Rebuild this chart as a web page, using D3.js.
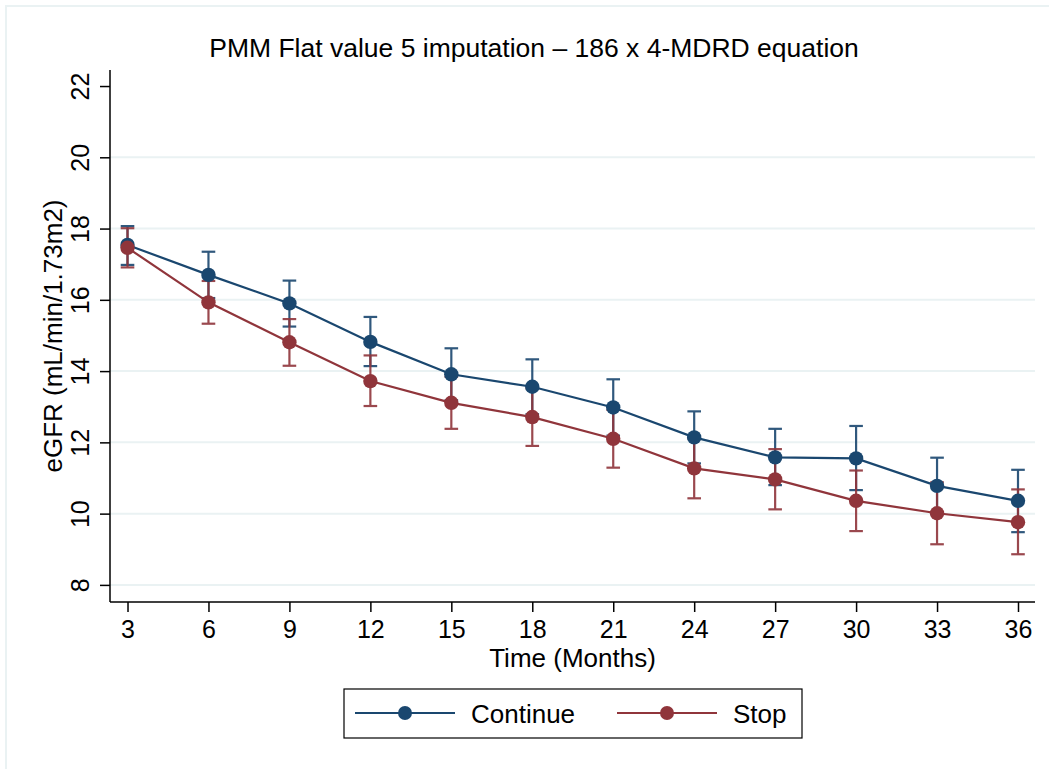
<!DOCTYPE html>
<html>
<head>
<meta charset="utf-8">
<script src="https://cdn.jsdelivr.net/npm/d3@7"></script>
<style>
  body { margin: 0; background: #fff; }
  svg { display: block; font-family: "Liberation Sans", Arial, sans-serif; }
  .grid line { stroke: #eaf2f3; stroke-width: 2; }
  .axis path, .axis line { stroke: #000; stroke-width: 1.5; }
</style>
</head>
<body>
<div class="chart"></div>
<script>
const WIDTH = 1049;
const HEIGHT = 769;

// plot region
const LEFT = 110, RIGHT = 1035, TOP = 70, BOTTOM = 602;

var months = [3, 6, 9, 12, 15, 18, 21, 24, 27, 30, 33, 36];
var yTicks = [8, 10, 12, 14, 16, 18, 20, 22];

var continueMean = [17.54, 16.70, 15.90, 14.82, 13.91, 13.56, 12.98, 12.14, 11.58, 11.55, 10.78, 10.36];
var continueLo   = [16.98, 16.05, 15.25, 14.14, 13.18, 12.79, 12.19, 11.41, 10.80, 10.66, 9.99, 9.48];
var continueHi   = [18.07, 17.35, 16.54, 15.52, 14.64, 14.33, 13.77, 12.87, 12.38, 12.46, 11.57, 11.23];

var stopMean = [17.46, 15.93, 14.81, 13.72, 13.11, 12.71, 12.10, 11.27, 10.96, 10.36, 10.01, 9.76];
var stopLo   = [16.91, 15.33, 14.15, 13.02, 12.38, 11.90, 11.29, 10.43, 10.12, 9.51, 9.14, 8.86];
var stopHi   = [18.01, 16.53, 15.46, 14.44, 13.84, 13.52, 12.91, 12.11, 11.81, 11.21, 10.88, 10.68];

var seriesNames = ['Continue', 'Stop'];
var colors = ['#1a476f', '#90353b'];

var series = [
    { name: seriesNames[0], color: colors[0], mean: continueMean, lo: continueLo, hi: continueHi },
    { name: seriesNames[1], color: colors[1], mean: stopMean, lo: stopLo, hi: stopHi }
];

var xScale = d3.scaleLinear().domain([2.351, 36.63]).range([LEFT, RIGHT]);
var yScale = d3.scaleLinear().domain([7.52, 22.45]).range([BOTTOM, TOP]);

var svg = d3.select('.chart').append('svg')
    .attr('width', WIDTH)
    .attr('height', HEIGHT);

// outer graph region frame
svg.append('rect')
    .attr('x', 6).attr('y', 6)
    .attr('width', WIDTH + 20).attr('height', HEIGHT + 20)
    .attr('fill', 'none')
    .attr('stroke', '#eaf2f3')
    .attr('stroke-width', 2);

// gridlines
svg.append('g').attr('class', 'grid')
    .selectAll('line').data(yTicks.filter(function (t) { return t < 22; })).enter().append('line')
    .attr('x1', LEFT).attr('x2', RIGHT)
    .attr('y1', function (d) { return yScale(d); })
    .attr('y2', function (d) { return yScale(d); });

// axes
var xAxis = d3.axisBottom(xScale).tickValues(months).tickSize(10).tickSizeOuter(0).tickPadding(8);
var yAxis = d3.axisLeft(yScale).tickValues(yTicks).tickSize(10).tickSizeOuter(0).tickPadding(6);

var xAxisG = svg.append('g').attr('class', 'axis')
    .attr('transform', 'translate(0,' + BOTTOM + ')')
    .call(xAxis);
xAxisG.select('.domain').attr('d', 'M' + LEFT + ',0H' + RIGHT);
xAxisG.selectAll('text').attr('font-size', 25).attr('font-family', '"Liberation Sans", Arial, sans-serif').attr('fill', '#000');

var yAxisG = svg.append('g').attr('class', 'axis')
    .attr('transform', 'translate(' + LEFT + ',0)')
    .call(yAxis);
yAxisG.select('.domain').attr('d', 'M0,' + TOP + 'V' + BOTTOM);
yAxisG.selectAll('.tick text')
    .attr('font-size', 25).attr('font-family', '"Liberation Sans", Arial, sans-serif').attr('fill', '#000')
    .attr('x', 0).attr('dy', 0)
    .attr('text-anchor', 'middle')
    .attr('transform', 'translate(-21,0) rotate(-90)');

// titles
svg.append('text')
    .attr('x', 534).attr('y', 57)
    .attr('text-anchor', 'middle')
    .attr('font-size', 26.5)
    .text('PMM Flat value 5 imputation \u2013 186 x 4-MDRD equation');

svg.append('text')
    .attr('x', (LEFT + RIGHT) / 2).attr('y', 667)
    .attr('text-anchor', 'middle')
    .attr('font-size', 26)
    .text('Time (Months)');

svg.append('text')
    .attr('transform', 'translate(62,' + ((TOP + BOTTOM) / 2) + ') rotate(-90)')
    .attr('text-anchor', 'middle')
    .attr('font-size', 26)
    .text('eGFR (mL/min/1.73m2)');

// error bars
var CAP = 6.8;
series.forEach(function (s) {
    var g = svg.append('g').attr('stroke', s.color).attr('stroke-width', 2.2).attr('opacity', 0.9);
    g.selectAll('line.bar').data(months).enter().append('line')
        .attr('x1', function (d) { return xScale(d); })
        .attr('x2', function (d) { return xScale(d); })
        .attr('y1', function (d, i) { return yScale(s.lo[i]); })
        .attr('y2', function (d, i) { return yScale(s.hi[i]); });
    g.selectAll('line.capHi').data(months).enter().append('line')
        .attr('x1', function (d) { return xScale(d) - CAP; })
        .attr('x2', function (d) { return xScale(d) + CAP; })
        .attr('y1', function (d, i) { return yScale(s.hi[i]); })
        .attr('y2', function (d, i) { return yScale(s.hi[i]); });
    g.selectAll('line.capLo').data(months).enter().append('line')
        .attr('x1', function (d) { return xScale(d) - CAP; })
        .attr('x2', function (d) { return xScale(d) + CAP; })
        .attr('y1', function (d, i) { return yScale(s.lo[i]); })
        .attr('y2', function (d, i) { return yScale(s.lo[i]); });
});

// connected lines + markers
series.forEach(function (s) {
    var line = d3.line()
        .x(function (d) { return xScale(d); })
        .y(function (d, i) { return yScale(s.mean[i]); });
    var g = svg.append('g');
    g.append('path')
        .attr('d', line(months))
        .attr('fill', 'none')
        .attr('stroke', s.color)
        .attr('stroke-width', 2.2);
    g.selectAll('circle').data(months).enter().append('circle')
        .attr('cx', function (d) { return xScale(d); })
        .attr('cy', function (d, i) { return yScale(s.mean[i]); })
        .attr('r', 7.2)
        .attr('fill', s.color);
});

// legend
var legend = svg.append('g');
legend.append('rect')
    .attr('x', 344).attr('y', 689)
    .attr('width', 458).attr('height', 49)
    .attr('fill', '#fff')
    .attr('stroke', '#000')
    .attr('stroke-width', 1.2);

var legendX = [355, 617];
series.forEach(function (s, i) {
    var g = legend.append('g').attr('transform', 'translate(' + legendX[i] + ',713)');
    g.append('line').attr('x1', 0).attr('x2', 100)
        .attr('stroke', s.color).attr('stroke-width', 2);
    g.append('circle').attr('cx', 50).attr('r', 7).attr('fill', s.color);
    g.append('text').attr('x', 116).attr('y', 9.5)
        .attr('font-size', 26)
        .text(s.name);
});
</script>
</body>
</html>
